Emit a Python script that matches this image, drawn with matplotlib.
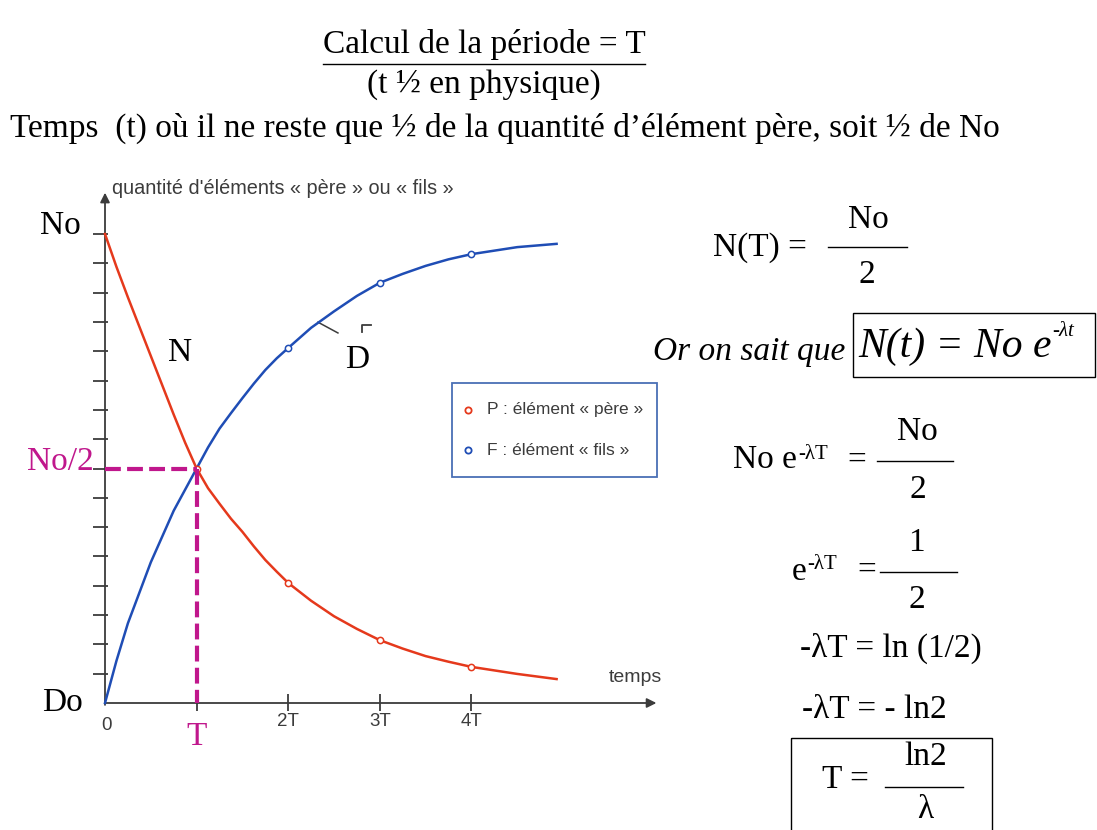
import matplotlib
matplotlib.use("Agg")
import matplotlib.pyplot as plt
from matplotlib.patches import Rectangle

# valeurs : t en multiples de T, quantité en fraction de No
t_lu = [0, 0.125, 0.25, 0.5, 0.75, 0.875, 1.0, 1.125, 1.25, 1.375, 1.5, 1.625, 1.75, 1.875,
        2.0, 2.25, 2.5, 2.75, 3.0, 3.25, 3.5, 3.75, 4.0, 4.5, 4.93]
pere = [1.0, 0.93, 0.865, 0.74, 0.615, 0.555, 0.50, 0.458, 0.425, 0.393, 0.365, 0.334, 0.305, 0.28,
        0.256, 0.218, 0.185, 0.158, 0.134, 0.116, 0.10, 0.088, 0.077, 0.062, 0.051]
fils = [0.0, 0.09, 0.17, 0.30, 0.41, 0.455, 0.50, 0.545, 0.585, 0.618, 0.65, 0.681, 0.71, 0.735,
        0.757, 0.80, 0.835, 0.868, 0.896, 0.915, 0.932, 0.946, 0.957, 0.972, 0.979]

t_pts_pere = [1, 2, 3, 4]
pts_pere = [0.50, 0.256, 0.134, 0.077]
t_pts_fils = [2, 3, 4]
pts_fils = [0.757, 0.896, 0.957]

xticks = [2, 3, 4]
xtick_labels = ["2T", "3T", "4T"]
yticks = [k / 16 for k in range(1, 17)]

ROUGE = "#e5391c"
BLEU = "#1f4db5"
MAGENTA = "#c0178c"
GRIS = "#3c3c3c"
serif = "Liberation Serif"
sans = "Liberation Sans"

W, H = 1097, 830
fig = plt.figure(figsize=(W / 100, H / 100), dpi=100)
fig.patch.set_facecolor("white")

# zone du graphique (pixels) : t=0 -> x=105, T = 91.6 px ; q=0 -> y=703, No = 469 px
X0, TPX, Y0, NPX = 105, 91.6, 703, 469
ax = fig.add_axes([0, 1 - 780 / H, 680 / W, 610 / H])
ax.set_xlim((0 - X0) / TPX, (680 - X0) / TPX)
ax.set_ylim((Y0 - 780) / NPX, (Y0 - 170) / NPX)
ax.axis("off")

# axes avec flèches
ax.annotate("", xy=(0, 1.094), xytext=(0, -0.01),
            arrowprops=dict(arrowstyle="-|>", color=GRIS, lw=1.3, mutation_scale=14))
ax.annotate("", xy=(6.05, 0), xytext=(-0.03, 0),
            arrowprops=dict(arrowstyle="-|>", color=GRIS, lw=1.3, mutation_scale=14))
ax.hlines(yticks, -0.13, 0.03, color=GRIS, lw=1.3)
ax.vlines(xticks + [1], -0.017, 0.02, color=GRIS, lw=1.3)

# courbes
ax.plot(t_lu, pere, color=ROUGE, lw=1.8, zorder=3)
ax.plot(t_lu, fils, color=BLEU, lw=1.8, zorder=3)
ax.plot(t_pts_pere, pts_pere, "o", ms=4.5, mfc="white", mec=ROUGE, mew=1.1, zorder=4)
ax.plot(t_pts_fils, pts_fils, "o", ms=4.5, mfc="white", mec=BLEU, mew=1.1, zorder=4)

# pointillés de la demi-vie
ax.plot([0, 1], [0.5, 0.5], color=MAGENTA, lw=3, dashes=(3.8, 1.5), zorder=5)
ax.plot([1, 1], [0.5, 0], color=MAGENTA, lw=3, dashes=(3.8, 1.5), zorder=5)

# graduations et étiquettes
ax.text(0.02, -0.047, "0", ha="center", va="center", fontsize=13.5, family=sans, color=GRIS)
for x, lab in zip(xticks, xtick_labels):
    ax.text(x, -0.04, lab, ha="center", va="center", fontsize=13.5, family=sans, color=GRIS)
ax.text(5.79, 0.055, "temps", ha="center", va="center", fontsize=14, family=sans, color=GRIS)
ax.text(0.08, 1.098, "quantité d'éléments « père » ou « fils »", ha="left", va="center",
        fontsize=14.3, family=sans, color=GRIS)

ax.text(-0.27, 1.017, "No", ha="right", va="center", fontsize=24, family=serif)
ax.text(-0.12, 0.514, "No/2", ha="right", va="center", fontsize=24, family=serif, color=MAGENTA)
ax.text(-0.24, 0.0, "Do", ha="right", va="center", fontsize=24, family=serif)
ax.text(1.0, -0.072, "T", ha="center", va="center", fontsize=24, family=serif, color=MAGENTA)
ax.text(0.82, 0.746, "N", ha="center", va="center", fontsize=24, family=serif)
ax.text(2.75, 0.731, "D", ha="center", va="center", fontsize=24, family=serif)

# repère « F » recouvert
ax.plot([2.325, 2.543], [0.812, 0.789], color=GRIS, lw=1.1)
ax.plot([2.806, 2.806, 2.904], [0.791, 0.806, 0.806], color=GRIS, lw=1.3)

# légende
ax.add_patch(Rectangle((3.79, 0.482), 2.24, 0.2, fill=False, ec="#4a6fb5", lw=1.3))
ax.plot([3.96], [0.625], "o", ms=4.5, mfc="white", mec=ROUGE, mew=1.3)
ax.plot([3.96], [0.539], "o", ms=4.5, mfc="white", mec=BLEU, mew=1.3)
ax.text(4.17, 0.625, "P : élément « père »", va="center", fontsize=12.5, family=sans, color=GRIS)
ax.text(4.17, 0.539, "F : élément « fils »", va="center", fontsize=12.5, family=sans, color=GRIS)

# texte et équations, en pixels
ov = fig.add_axes([0, 0, 1, 1], zorder=5)
ov.set_xlim(0, W)
ov.set_ylim(H, 0)
ov.axis("off")
ov.patch.set_alpha(0)


def txt(x, y, s, size=24, **kw):
    return ov.text(x, y, s, fontsize=size, family=serif, va="center", **kw)


titre = txt(484, 44, "Calcul de la période = T", 24, ha="center")
txt(484, 85, "(t ½ en physique)", 24, ha="center")
txt(10, 128, "Temps  (t) où il ne reste que ½ de la quantité d’élément père, soit ½ de No", 24)

# N(T) = No/2
txt(713, 248, "N(T) =")
ov.plot([828, 907], [247, 247], color="black", lw=1)
txt(868, 220, "No", ha="center")
txt(867, 275, "2", ha="center")

# Or on sait que ...
txt(653, 352, "Or on sait que", 24, style="italic")
txt(858, 347, "N(t) = No e", 30, style="italic")
txt(1052, 331, "-λt", 15, style="italic")
ov.add_patch(Rectangle((853, 313), 242, 64, fill=False, ec="black", lw=1))

# No e^-λT = No/2
txt(733, 460, "No e")
txt(798, 454, "-λT", 15)
txt(847, 460, "=")
ov.plot([877, 953], [461, 461], color="black", lw=1)
txt(917, 432, "No", ha="center")
txt(918, 490, "2", ha="center")

# e^-λT = 1/2
txt(792, 572, "e")
txt(807, 564, "-λT", 15)
txt(857, 570, "=")
ov.plot([880, 957], [572, 572], color="black", lw=1)
txt(916, 543, "1", ha="center")
txt(917, 600, "2", ha="center")

txt(800, 648, "-λT = ln (1/2)")
txt(802, 710, "-λT = - ln2")

# T = ln2 / λ
ov.add_patch(Rectangle((791, 738), 201, 100, fill=False, ec="black", lw=1))
txt(822, 780, "T =")
ov.plot([885, 963], [787, 787], color="black", lw=1)
txt(926, 757, "ln2", ha="center")
txt(925, 810, "λ", ha="center")

# soulignement du titre
fig.canvas.draw()
bb = titre.get_window_extent()
ov.plot([bb.x0, bb.x1], [64, 64], color="black", lw=1)

fig.savefig("out.png", dpi=100)
